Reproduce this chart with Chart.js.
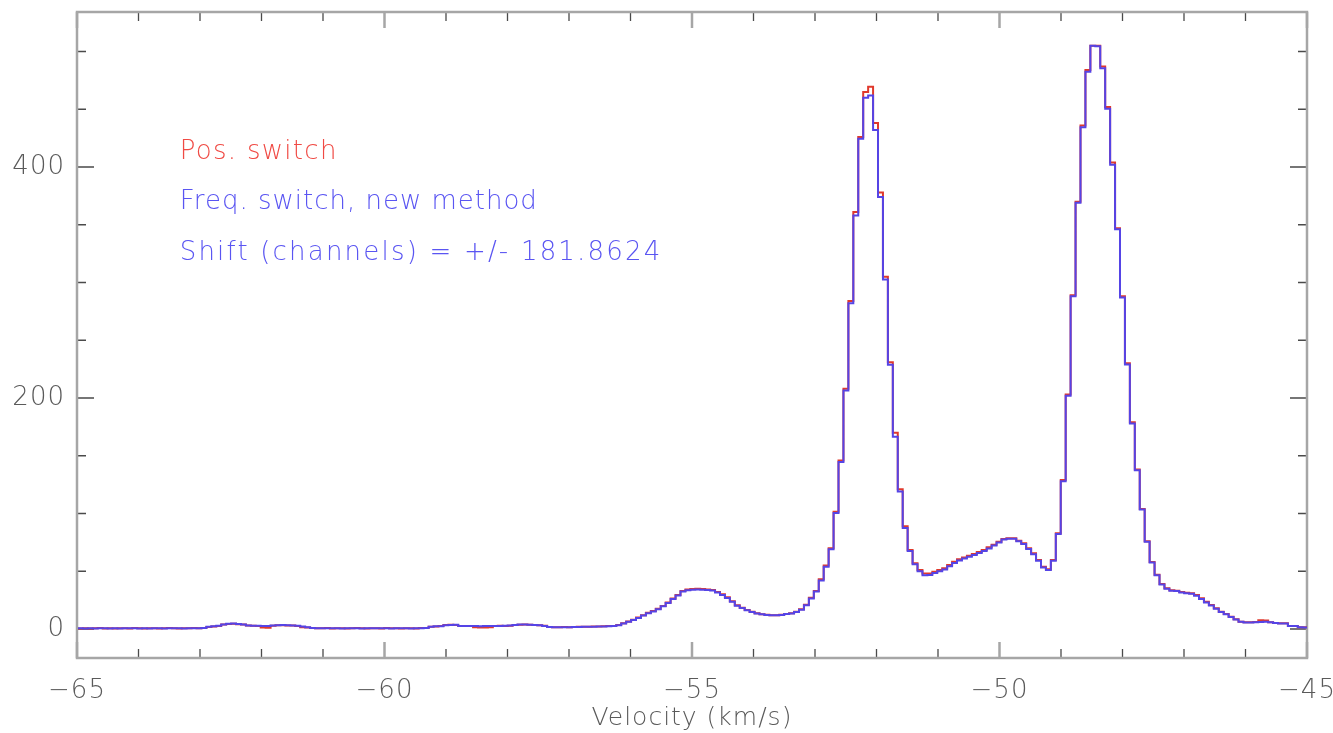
<!DOCTYPE html>
<html>
<head>
<meta charset="utf-8">
<script src="https://cdn.jsdelivr.net/npm/chart.js@4/dist/chart.umd.min.js"></script>
<style>
  html, body { margin: 0; padding: 0; background: #ffffff; }
  #wrap { width: 1333px; height: 733px; }
</style>
</head>
<body>
<div id="wrap"><canvas id="c" width="1333" height="733"></canvas></div>
<script>
// ---- Data ----
const vStart = -64.984;   // km/s, first channel edge
const dv = 0.0803;        // km/s, channel width

const posSwitch = [
  0.5, 0.7, 0.4, 0.6, 0.8, 0.5, 0.6, 0.4, 0.7, 0.6,
  0.5, 0.8, 0.6, 0.4, 0.7, 0.6, 0.5, 0.7, 0.8, 0.6,
  0.5, 0.7, 0.6, 0.8, 0.6, 0.9, 1.8, 2.2, 2.6, 3.8,
  4.3, 4.5, 4.2, 3.9, 3.0, 2.8, 2.6, 1.2, 1.0, 2.9,
  3.2, 3.3, 3.1, 3.0, 2.5, 1.5, 1.4, 0.9, 0.7, 0.6,
  0.8, 0.5, 0.6, 0.7, 0.5, 0.6, 0.8, 0.6, 0.5, 0.7,
  0.6, 0.5, 0.8, 0.6, 0.7, 0.5, 0.6, 0.7, 0.5, 0.8,
  0.9, 1.9, 2.2, 2.5, 3.4, 3.7, 3.5, 2.6, 2.5, 2.7,
  1.5, 1.3, 1.4, 1.6, 2.6, 2.8, 2.7, 2.9, 3.4, 3.7,
  3.8, 3.6, 3.5, 3.3, 2.8, 1.8, 1.6, 1.5, 1.7, 1.6,
  1.8, 1.9, 2.0, 2.0, 2.1, 2.2, 2.3, 2.5, 2.6, 3.5,
  5, 6.5, 8, 10, 12, 14, 15.5, 17.5, 20, 23,
  26.5, 29.5, 33, 34.3, 34.6, 34.8, 34.6, 34.2, 33.8, 32,
  30, 27.5, 24, 20.5, 18.5, 16.5, 15, 13.6, 12.8, 12.3,
  12, 12, 12.3, 13, 13.6, 15, 17, 21, 27, 33,
  43, 55, 70, 101.6, 146, 208, 284, 361, 426, 465,
  469.5, 438, 378, 305, 231, 170, 121, 89, 68.4, 57,
  51, 48, 48, 49.6, 51, 52.5, 55.4, 58.3, 60.3, 62,
  63.5, 65, 66.7, 68.4, 70.7, 73, 75.6, 78, 78.5, 78.5,
  76.5, 74.2, 69.9, 65.5, 59.7, 54, 51.7, 59.7, 83, 129,
  203, 289, 370, 436, 484, 505, 505, 487, 452, 404,
  347, 288, 230, 179, 138, 104, 76, 58, 47, 39,
  35.2, 33.5, 33.2, 32, 31.4, 31, 29.4, 26.6, 23.6, 20.8,
  17.9, 15, 13, 10.7, 8.4, 6.3, 5.8, 5.8, 6.0, 7.5,
  7.3, 5.8, 5.2, 4.9, 4.9, 2.6, 2.6, 1.5, 1.5
];

const freqSwitch = [
  0.6, 0.5, 0.7, 0.5, 0.6, 0.7, 0.4, 0.6, 0.5, 0.7,
  0.6, 0.6, 0.5, 0.6, 0.5, 0.7, 0.6, 0.5, 0.6, 0.7,
  0.6, 0.5, 0.7, 0.6, 0.7, 0.8, 2.0, 2.4, 2.8, 4.0,
  4.6, 4.7, 4.4, 3.8, 3.1, 2.9, 2.8, 2.6, 2.5, 3.0,
  3.3, 3.4, 3.2, 3.1, 2.8, 2.2, 1.6, 0.8, 0.6, 0.7,
  0.6, 0.6, 0.7, 0.5, 0.6, 0.7, 0.6, 0.5, 0.6, 0.6,
  0.7, 0.6, 0.6, 0.5, 0.6, 0.6, 0.7, 0.5, 0.6, 0.7,
  0.8, 2.0, 2.3, 2.4, 3.3, 3.5, 3.6, 2.7, 2.6, 2.6,
  2.5, 2.4, 2.6, 2.5, 2.7, 2.6, 2.8, 3.0, 3.5, 3.8,
  3.9, 3.7, 3.4, 3.2, 2.6, 1.7, 1.5, 1.6, 1.6, 1.5,
  1.7, 1.8, 1.9, 1.9, 2.0, 2.1, 2.2, 2.4, 2.5, 3.3,
  4.8, 6.3, 7.8, 9.6, 11.6, 13.6, 15.2, 17.2, 19.6, 22.6,
  26, 29, 32.4, 33.6, 33.9, 34.1, 34.0, 33.8, 33.3, 31.6,
  29.4, 26.8, 23.5, 20.2, 18.2, 16.2, 14.8, 13.5, 12.7, 12.2,
  11.9, 11.9, 12.2, 12.9, 13.5, 14.8, 16.7, 20.6, 26.5, 32.5,
  42, 54, 69, 100.5, 144.5, 206.5, 282, 358, 424.5, 460,
  462, 432, 374, 302.5, 228.7, 166.5, 119, 87.5, 67.5, 56,
  50, 46.5, 46.8, 48.6, 50, 51.5, 54.3, 57.2, 59.3, 61,
  62.6, 64.1, 65.8, 67.5, 69.8, 72.2, 74.9, 77.5, 78.2, 78.2,
  76, 73.5, 69.2, 64.7, 59, 53.3, 51, 59, 82.2, 128,
  202, 288, 369, 434.5, 482.5, 505, 504.5, 485.5, 450.5, 402,
  346, 287, 229, 178, 137.5, 103.5, 75.5, 57.5, 46.5, 38.6,
  34.9, 33.2, 32.8, 31.6, 31.0, 30.5, 28.8, 26.0, 23.0, 20.3,
  17.5, 14.7, 12.8, 10.5, 8.2, 6.2, 5.7, 5.6, 5.8, 6.0,
  6.2, 5.9, 5.3, 4.8, 4.7, 2.7, 2.5, 1.6, 1.4
];

const xLabelTicks = [-65, -60, -55, -50, -45];
const xMinorTicks = [-64, -63, -62, -61, -59, -58, -57, -56, -54, -53, -52, -51, -49, -48, -47, -46];
const yLabelTicks = [0, 200, 400];
const yMinorTicks = [50, 100, 150, 250, 300, 350, 450, 500];

const noteTexts = ['Pos. switch', 'Freq. switch, new method', 'Shift (channels) = +/- 181.8624'];
const noteY = [413, 369.7, 325.5];   // in data units
const noteX = -63.33;                 // in km/s

// ---- Build step data (channel edges) ----
function stepPoints(vals) {
  const n = vals.length;
  const pts = [];
  for (let k = 0; k <= n; k++) {
    pts.push({ x: +(vStart + dv * k).toFixed(4), y: vals[Math.min(k, n - 1)] });
  }
  return pts;
}

const FONT = 'DejaVu Sans';
const TXT = '#5a5a5a';
const noteColors = ['#f04a44', '#5a55f2', '#5a55f2'];
const noteSpacing = ['1.3px', '1.0px', '2.2px'];

const frameTicks = {
  id: 'frameTicks',
  beforeDraw(chart) { chart.ctx.letterSpacing = '1px'; },
  beforeDatasetsDraw(chart) {
    const { ctx, chartArea: { left, right, top, bottom }, scales: { x, y } } = chart;
    ctx.save();
    ctx.strokeStyle = '#4a4a4a';
    ctx.lineWidth = 1.3;
    ctx.beginPath();
    xMinorTicks.forEach(v => {
      const px = x.getPixelForValue(v);
      ctx.moveTo(px, bottom); ctx.lineTo(px, bottom - 9);
      ctx.moveTo(px, top); ctx.lineTo(px, top + 9);
    });
    yMinorTicks.forEach(v => {
      const py = y.getPixelForValue(v);
      ctx.moveTo(left, py); ctx.lineTo(left + 9, py);
      ctx.moveTo(right, py); ctx.lineTo(right - 9, py);
    });
    yLabelTicks.forEach(v => {
      const py = y.getPixelForValue(v);
      ctx.moveTo(left, py); ctx.lineTo(left + 17, py);
      ctx.moveTo(right, py); ctx.lineTo(right - 17, py);
    });
    ctx.stroke();
    ctx.strokeStyle = '#a6a6a6';
    ctx.lineWidth = 2.5;
    ctx.beginPath();
    xLabelTicks.forEach(v => {
      const px = x.getPixelForValue(v);
      ctx.moveTo(px, bottom); ctx.lineTo(px, bottom - 16);
      ctx.moveTo(px, top); ctx.lineTo(px, top + 16);
    });
    ctx.stroke();
    ctx.strokeStyle = '#a6a6a6';
    ctx.lineWidth = 2.5;
    ctx.strokeRect(left, top, right - left, bottom - top);
    ctx.restore();
  },
  afterDatasetsDraw(chart) {
    const { ctx, scales: { x, y } } = chart;
    ctx.save();
    ctx.font = '200 26px "' + FONT + '"';
    ctx.textAlign = 'left';
    ctx.textBaseline = 'middle';
    noteTexts.forEach((t, i) => {
      ctx.letterSpacing = noteSpacing[i];
      ctx.fillStyle = noteColors[i];
      ctx.fillText(t, x.getPixelForValue(noteX), y.getPixelForValue(noteY[i]));
    });
    ctx.restore();
  },
  afterDraw(chart) { chart.ctx.letterSpacing = '0px'; }
};

new Chart(document.getElementById('c'), {
  type: 'line',
  data: {
    datasets: [
      {
        label: 'Freq. switch, new method',
        data: stepPoints(freqSwitch),
        borderColor: '#5544e6',
        borderWidth: 2,
        pointRadius: 0,
        stepped: 'before',
        fill: false
      },
      {
        label: 'Pos. switch',
        data: stepPoints(posSwitch),
        borderColor: '#e0392c',
        borderWidth: 2,
        pointRadius: 0,
        stepped: 'before',
        fill: false
      }
    ]
  },
  options: {
    responsive: false,
    devicePixelRatio: 1,
    animation: false,
    layout: { padding: { top: 12, right: 26, left: 0, bottom: 0 } },
    plugins: { legend: { display: false }, tooltip: { enabled: false } },
    scales: {
      x: {
        type: 'linear',
        min: -65,
        max: -45,
        grid: { display: false },
        border: { display: false },
        afterBuildTicks: s => { s.ticks = xLabelTicks.map(v => ({ value: v })); },
        afterFit: s => { s.height = 75; s.paddingLeft = 0; s.paddingRight = 0; },
        ticks: {
          padding: 10,
          color: TXT,
          font: { family: FONT, size: 26, weight: '200' },
          maxRotation: 0,
          callback: v => (v < 0 ? '\u2212' + Math.abs(v) : String(v))
        },
        title: {
          display: true,
          text: 'Velocity (km/s)',
          color: TXT,
          font: { family: FONT, size: 25, weight: '200' },
          padding: { top: 0, bottom: 0 }
        }
      },
      y: {
        type: 'linear',
        min: -25.1,
        max: 534.2,
        grid: { display: false },
        border: { display: false },
        afterBuildTicks: s => { s.ticks = yLabelTicks.map(v => ({ value: v })); },
        afterFit: s => { s.width = 77; s.paddingTop = 0; s.paddingBottom = 0; },
        ticks: {
          padding: 4,
          color: TXT,
          font: { family: FONT, size: 26, weight: '200' }
        }
      }
    }
  },
  plugins: [frameTicks]
});
</script>
</body>
</html>
